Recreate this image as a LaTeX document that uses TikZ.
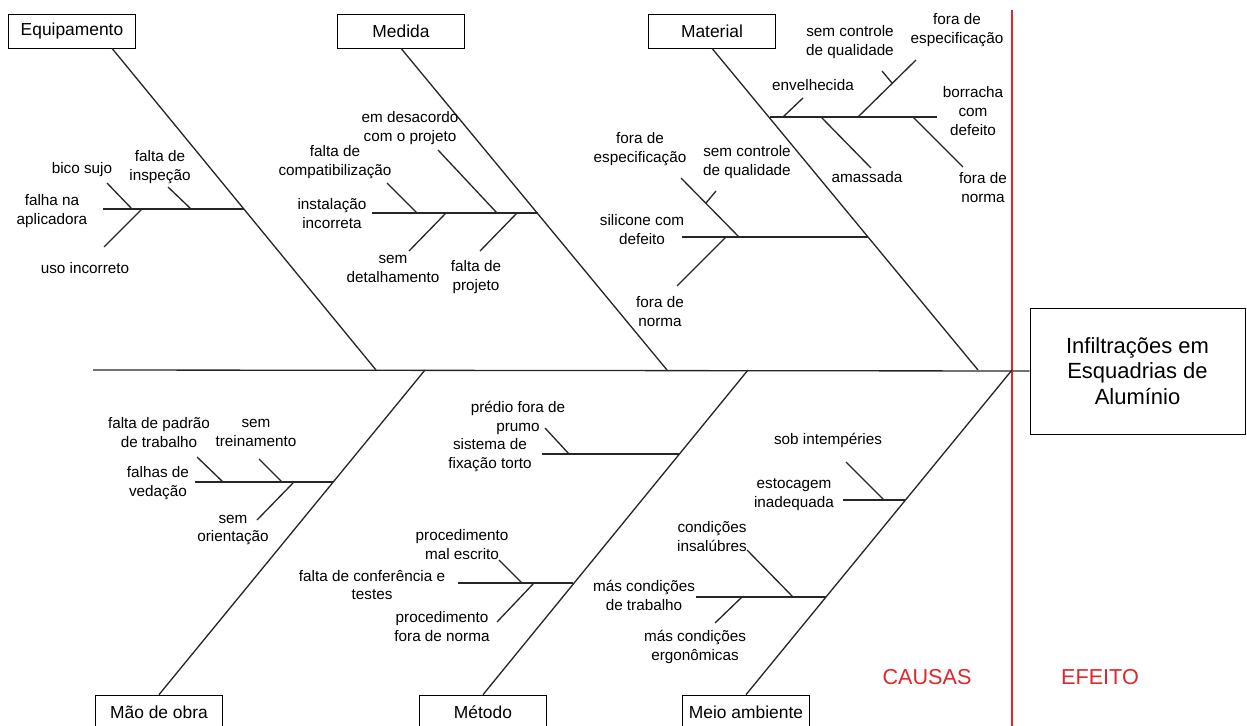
\documentclass[tikz,border=0pt]{standalone}
\usepackage{fontspec}
\setmainfont{Liberation Sans}
\definecolor{causared}{RGB}{222,38,44}
\tikzset{
	catbox/.style={draw, minimum width=2.54cm, minimum height=0.68cm, inner sep=0pt, font=\fontsize{9.9}{12}\selectfont},
	cause/.style={align=center, inner sep=0pt, font=\fontsize{8.7}{10.8}\selectfont},
	bone/.style={line width=0.75pt, black!85}
}
\begin{document}
\begin{tikzpicture}[x=0.02cm, y=-0.02cm]
			\useasboundingbox (0,0) rectangle (1247,726);
			% categorias
			\node[catbox] (eq) at (72,31) {Equipamento};
			\node[catbox] (me) at (401,31) {Medida};
			\node[catbox] (ma) at (712,31) {Material};
			\node[catbox] (mo) at (159,712) {Mão de obra};
			\node[catbox] (mt) at (483,712) {Método};
			\node[catbox] (amb) at (746,712) {Meio ambiente};
			\node[draw, minimum width=4.3cm, minimum height=2.52cm, align=center, font=\fontsize{12.5}{14.7}\selectfont] (ef) at (1137.5,371) {Infiltrações em\\Esquadrias de\\Alumínio};
			% espinha
			\coordinate (s1) at (376,370);
			\coordinate (s2) at (667,370);
			\coordinate (s3) at (978,370);
			\coordinate (s4) at (425,370);
			\coordinate (s5) at (748,370);
			\coordinate (s6) at (1012,370);
			\coordinate (sp) at (93,370);
			\draw[bone] (sp) -- (ef.west);
			\draw[causared, line width=0.75pt] (1012,10) -- (1012,726);
			\draw[bone] ([xshift=0.8cm]eq.south) -- (s1);
			\draw[bone] (me.south) -- (s2);
			\draw[bone] (ma.south) -- (s3);
			\draw[bone] (s4) -- (mo.north);
			\draw[bone] (s5) -- (mt.north);
			\draw[bone] (s6) -- (amb.north);
			% Equipamento
			\draw[bone] (103,209) -- (244,209);
			\draw[bone] (107,183) -- (132,209);
			\draw[bone] (168,187) -- (191,209);
			\draw[bone] (142,209) -- (104,247);
			\node[cause] (c1) at (82,170) {bico sujo};
			\node[cause] (c2) at (160,167) {falta de\\inspeção};
			\node[cause] (c3) at (52,211) {falha na\\aplicadora};
			\node[cause] (c4) at (85,268) {uso incorreto};
			% Medida
			\draw[bone] (372,213) -- (538,213);
			\draw[bone] (387,183) -- (417,213);
			\draw[bone] (438,150) -- (497,213);
			\draw[bone] (446,213) -- (409,251);
			\draw[bone] (517,213) -- (480,251);
			\node[cause] (c5) at (410,128) {em desacordo\\com o projeto};
			\node[cause] (c6) at (335,162) {falta de\\compatibilização};
			\node[cause] (c7) at (332,214) {instalação\\incorreta};
			\node[cause] (c8) at (393,269) {sem\\detalhamento};
			\node[cause] (c9) at (476,277) {falta de\\projeto};
			% Material
			\draw[bone] (770,117) -- (937,117);
			\draw[bone] (803,98) -- (783,117);
			\draw[bone] (916,60) -- (858,117);
			\draw[bone] (882,71) -- (892,83);
			\draw[bone] (821,117) -- (871,168);
			\draw[bone] (913,117) -- (963,167);
			\draw[bone] (682,237) -- (868,237);
			\draw[bone] (681,178) -- (739,237);
			\draw[bone] (716,191) -- (706,203);
			\draw[bone] (726,237) -- (677,286);
			\node[cause] (c10) at (813,85) {envelhecida};
			\node[cause] (c11) at (850,42) {sem controle\\de qualidade};
			\node[cause] (c12) at (957,30) {fora de\\especificação};
			\node[cause] (c13) at (973,111) {borracha\\com\\defeito};
			\node[cause] (c14) at (867,177) {amassada};
			\node[cause] (c15) at (983,188) {fora de\\norma};
			\node[cause] (c16) at (640,149) {fora de\\especificação};
			\node[cause] (c17) at (747,162) {sem controle\\de qualidade};
			\node[cause] (c18) at (642,230) {silicone com\\defeito};
			\node[cause] (c19) at (660,312) {fora de\\norma};
			% Mao de obra
			\draw[bone] (195,482) -- (333,482);
			\draw[bone] (197,457) -- (223,482);
			\draw[bone] (259,459) -- (282,482);
			\draw[bone] (294,482) -- (257,520);
			\node[cause] (c20) at (159,433) {falta de padrão\\de trabalho};
			\node[cause] (c21) at (256,433) {sem\\treinamento};
			\node[cause] (c22) at (158,483) {falhas de\\vedação};
			\node[cause] (c23) at (233,530) {sem\\orientação};
			% Metodo
			\draw[bone] (542,454) -- (679,454);
			\draw[bone] (545,428) -- (569,454);
			\draw[bone] (458,583) -- (573,583);
			\draw[bone] (499,560) -- (522,583);
			\draw[bone] (534,583) -- (497,622);
			\node[cause] (c24) at (518,418) {prédio fora de\\prumo};
			\node[cause] (c25) at (490,455) {sistema de\\fixação torto};
			\node[cause] (c26) at (462,545) {procedimento\\mal escrito};
			\node[cause] (c27) at (372,585) {falta de conferência e\\testes};
			\node[cause] (c28) at (442,627) {procedimento\\fora de norma};
			% Meio ambiente
			\draw[bone] (843,500) -- (905,500);
			\draw[bone] (846,462) -- (884,500);
			\draw[bone] (696,597) -- (826,597);
			\draw[bone] (747,550) -- (793,597);
			\draw[bone] (742,597) -- (715,623);
			\node[cause] (c29) at (828,440) {sob intempéries};
			\node[cause] (c30) at (794,495) {estocagem\\inadequada};
			\node[cause] (c31) at (712,537) {condições\\insalúbres};
			\node[cause] (c32) at (644,595) {más condições\\de trabalho};
			\node[cause] (c33) at (695,647) {más condições\\ergonômicas};
			% causas / efeito
			\node[text=causared, font=\fontsize{12.3}{14}\selectfont] (causas) at (927,677) {CAUSAS};
			\node[text=causared, font=\fontsize{12.3}{14}\selectfont] (efeito) at (1100,677) {EFEITO};
		\end{tikzpicture}
\end{document}
